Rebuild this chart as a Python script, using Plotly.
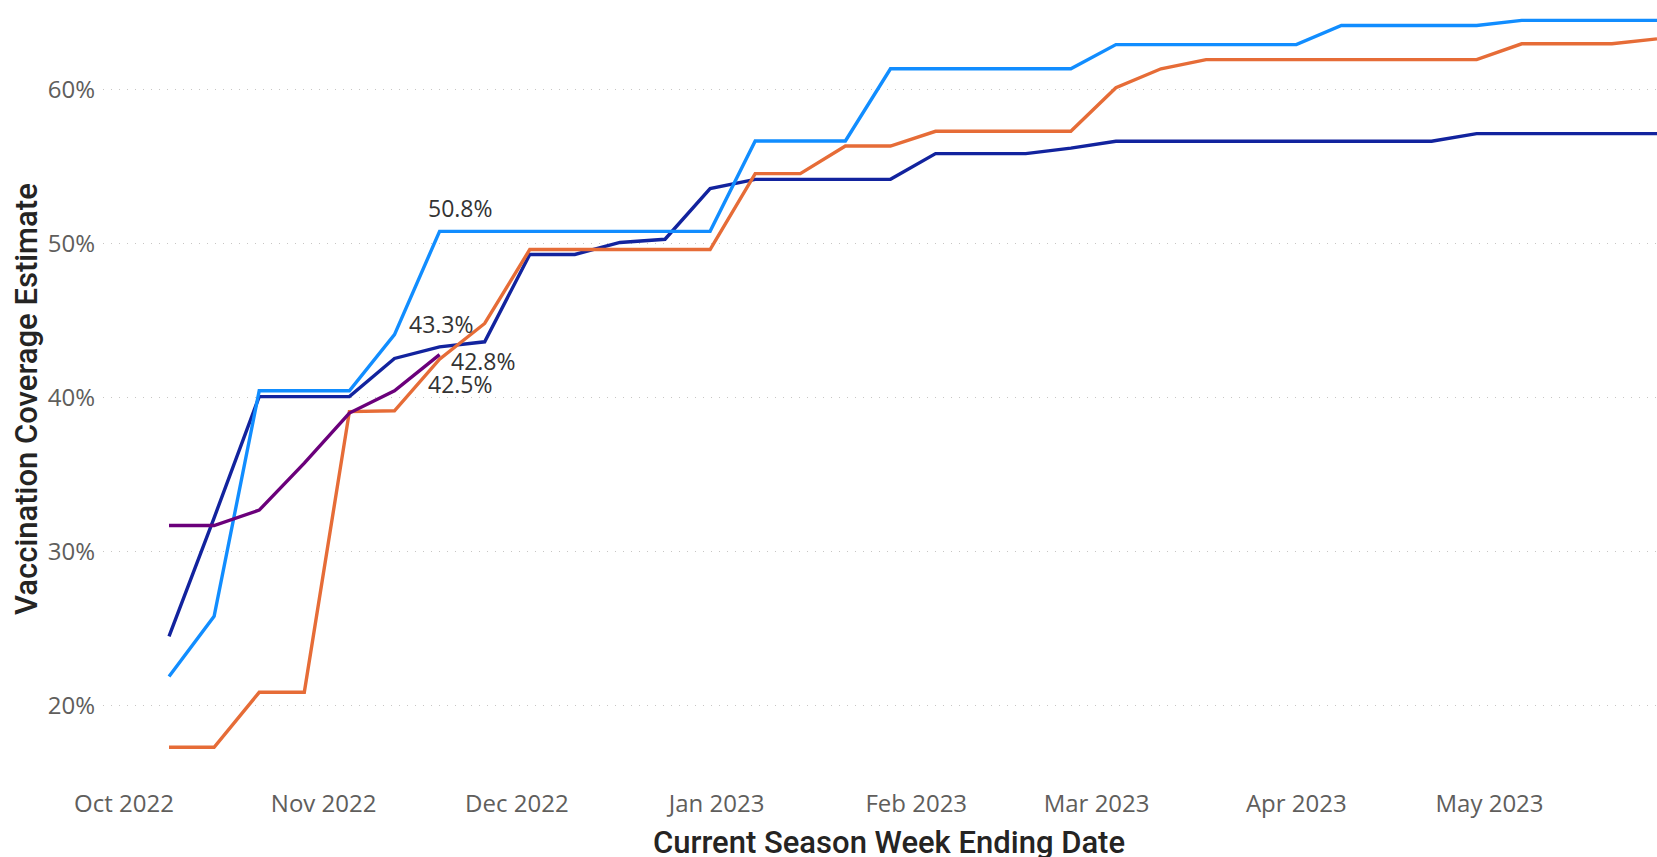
import plotly.graph_objects as go
import pandas as pd

# Week-ending dates (Saturdays) of the current season
week_ending = pd.date_range("2022-10-08", periods=34, freq="7D")

# Coverage estimates (%)
season_light_blue = [21.9, 25.8, 40.45, 40.45, 40.45, 44.1, 50.8, 50.8, 50.8, 50.8,
                     50.8, 50.8, 50.8, 56.67, 56.67, 56.67, 61.36, 61.36, 61.36, 61.36,
                     61.36, 62.93, 62.93, 62.93, 62.93, 62.93, 64.17, 64.17, 64.17, 64.17,
                     64.5, 64.5, 64.5, 64.5]
season_dark_blue = [24.5, 32.2, 40.07, 40.07, 40.07, 42.55, 43.3, 43.63, 49.3, 49.3,
                    50.08, 50.29, 53.58, 54.18, 54.18, 54.18, 54.18, 55.85, 55.85, 55.85,
                    56.21, 56.65, 56.65, 56.65, 56.65, 56.65, 56.65, 56.65, 56.65, 57.15,
                    57.15, 57.15, 57.15, 57.15]
season_orange = [17.3, 17.3, 20.87, 20.87, 39.1, 39.15, 42.5, 44.82, 49.62, 49.62,
                 49.62, 49.62, 49.62, 54.55, 54.55, 56.34, 56.34, 57.3, 57.3, 57.3,
                 57.3, 60.13, 61.36, 61.95, 61.95, 61.95, 61.95, 61.95, 61.95, 61.95,
                 62.98, 62.98, 62.98, 63.3]
season_current = [31.7, 31.7, 32.7, 35.75, 39.0, 40.45, 42.8]

series_names = ["2021-22", "2019-20", "2020-21", "2022-23"]
series_values = [season_dark_blue, season_light_blue, season_orange, season_current]
series_colors = ["#12239E", "#118DFF", "#E66C37", "#6B007B"]

# Data labels: (series index, week index, xshift, yshift)
label_specs = [(1, 6, 21, 23), (0, 6, 2, 23), (3, 6, 44, -6), (2, 6, 21, -25)]

fig = go.Figure()
for name, vals, col in zip(series_names, series_values, series_colors):
    fig.add_trace(go.Scatter(
        x=week_ending[:len(vals)], y=[v / 100 for v in vals],
        mode="lines", name=name,
        line=dict(color=col, width=3.4),
        hovertemplate="%{x|%b %d, %Y}<br>%{y:.1%}<extra>" + name + "</extra>",
    ))

annotations = []
for si, wi, dx, dy in label_specs:
    v = series_values[si][wi]
    annotations.append(dict(
        x=week_ending[wi], y=v / 100, xref="x", yref="y",
        text=f"{v:.1f}%", showarrow=False, xanchor="center", yanchor="middle",
        xshift=dx, yshift=dy,
        font=dict(family="Open Sans, Noto Sans, sans-serif", size=23, color="#333333"),
    ))

title_font = dict(family="Roboto, DejaVu Sans, sans-serif", size=31, color="#252423",
                  weight=500)
annotations.append(dict(
    text="Current Season Week Ending Date", xref="paper", yref="paper",
    x=0.5061, y=0, yshift=-67, xanchor="center", yanchor="middle",
    showarrow=False, font=title_font,
))
annotations.append(dict(
    text="Vaccination Coverage Estimate", xref="paper", yref="paper",
    x=0, xshift=-77, y=0.4883, xanchor="center", yanchor="middle",
    textangle=-90, showarrow=False, font=title_font,
))

tick_font = dict(family="Open Sans, Noto Sans, sans-serif", size=24, color="#605E5C")

fig.update_layout(
    width=1657, height=857,
    margin=dict(l=103, r=0, t=4.5, b=81.5),
    paper_bgcolor="white", plot_bgcolor="white",
    showlegend=False,
    annotations=annotations,
    xaxis=dict(
        type="date",
        range=["2022-09-27 18:00", "2023-05-27"],
        tick0="2022-10-01", dtick="M1", tickformat="%b %Y",
        showgrid=False, zeroline=False, showline=False,
        ticks="", ticklabelstandoff=12,
        tickfont=tick_font,
    ),
    yaxis=dict(
        range=[0.155, 0.655],
        tickvals=[0.2, 0.3, 0.4, 0.5, 0.6], tickformat=".0%",
        showgrid=True, gridcolor="#C8C6C4", gridwidth=1.2, griddash="1px,7px",
        zeroline=False, showline=False, ticks="", ticklabelstandoff=7,
        tickfont=tick_font,
    ),
)

fig.write_html("out.html", config={"displayModeBar": False},
               post_script="document.body.style.margin='0px';document.body.style.overflow='hidden';")
